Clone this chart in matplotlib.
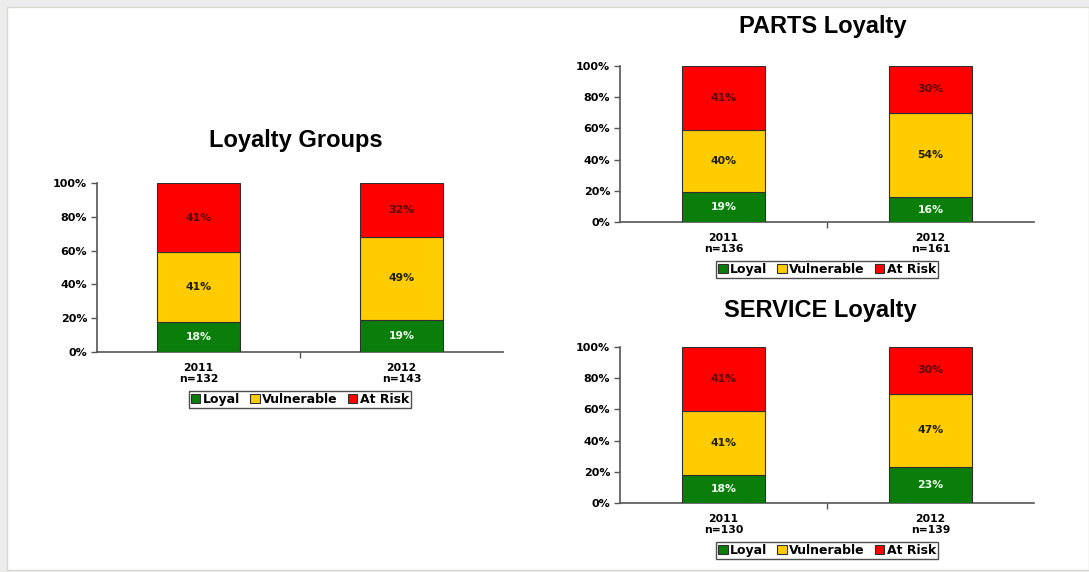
import matplotlib.pyplot as plt
from matplotlib.patches import Patch, Rectangle

plt.rcParams['font.family'] = ['DejaVu Sans']

# ---------------------------------------------------------------- data
years = ["2011", "2012"]
segments = ["Loyal", "Vulnerable", "At Risk"]

groups_n = [132, 143]
groups_loyal = [18, 19]
groups_vuln = [41, 49]
groups_risk = [41, 32]

parts_n = [136, 161]
parts_loyal = [19, 16]
parts_vuln = [40, 54]
parts_risk = [41, 30]

service_n = [130, 139]
service_loyal = [18, 23]
service_vuln = [41, 47]
service_risk = [41, 30]

yticks = [0, 20, 40, 60, 80, 100]

# ---------------------------------------------------------------- style
colors = ["#0b7d0b", "#ffcc00", "#ff0000"]
label_colors = ["#eaffea", "#202000", "#5a0000"]
W, H = 1089, 572


def px_axes(fig, left, right, top, bottom):
    return fig.add_axes([left / W, 1 - bottom / H, (right - left) / W, (bottom - top) / H])


def stacked(ax, n, loyal, vuln, risk):
    x = list(range(len(years)))
    bottom = [0] * len(x)
    for vals, col, tcol in zip([loyal, vuln, risk], colors, label_colors):
        bars = ax.bar(x, vals, width=0.405, bottom=bottom, color=col,
                      edgecolor="#303030", linewidth=0.8, zorder=3)
        for b, v in zip(bars, vals):
            ax.text(b.get_x() + b.get_width() / 2, b.get_y() + b.get_height() / 2,
                    f"{v}%", ha="center", va="center", fontsize=7.8,
                    fontweight="bold", color=tcol, zorder=4)
        bottom = [a + v for a, v in zip(bottom, vals)]

    ax.set_xlim(-0.5, 1.5)
    ax.set_ylim(0, 100)
    ax.set_yticks(yticks)
    ax.set_yticklabels([f"{t}%" for t in yticks], fontsize=8, fontweight="bold")
    ax.tick_params(axis="y", length=4, width=1, color="#555555", pad=3)
    ax.set_xticks([0.5])
    ax.set_xticklabels([""])
    ax.tick_params(axis="x", which="major", length=4, width=1, color="#555555")
    ax.set_xticks(x, minor=True)
    ax.set_xticklabels([f"{y}\nn={k}" for y, k in zip(years, n)], minor=True,
                       fontsize=7.8, fontweight="bold", linespacing=1.1)
    ax.tick_params(axis="x", which="minor", length=0, pad=8)
    for s in ["top", "right"]:
        ax.spines[s].set_visible(False)
    for s in ["left", "bottom"]:
        ax.spines[s].set_color("#555555")
        ax.spines[s].set_linewidth(1.2)

    # legend sits a fixed pixel distance under the axis line
    drop = 33 / (ax.get_position().height * H)
    handles = [Patch(facecolor=c, edgecolor="#303030", linewidth=0.8) for c in colors]
    leg = ax.legend(handles, segments, loc="upper center", bbox_to_anchor=(0.5, -drop),
                    ncol=3, frameon=True, fancybox=False,
                    handlelength=0.75, handleheight=0.75, handletextpad=0.2,
                    columnspacing=0.8, borderpad=0.15, prop={"weight": "bold", "size": 9})
    leg.get_frame().set_edgecolor("#222222")
    leg.get_frame().set_linewidth(1.0)


fig = plt.figure(figsize=(W / 100, H / 100), dpi=100, facecolor="#ececec")
fig.patches.append(Rectangle((7 / W, 2 / H), 1 - 7 / W, 1 - 9 / H,
                             transform=fig.transFigure, facecolor="white",
                             edgecolor="#d8d8d0", linewidth=1, zorder=-1))

title_font = {"family": "Liberation Sans", "fontsize": 17, "fontweight": "bold"}

ax1 = px_axes(fig, 97, 503, 183, 352)
stacked(ax1, groups_n, groups_loyal, groups_vuln, groups_risk)
fig.text(296 / W, 1 - 141 / H, "Loyalty Groups", ha="center", va="center", **title_font)

ax2 = px_axes(fig, 620, 1034, 66, 222)
stacked(ax2, parts_n, parts_loyal, parts_vuln, parts_risk)
fig.text(823 / W, 1 - 26 / H, "PARTS Loyalty", ha="center", va="center", **title_font)

ax3 = px_axes(fig, 620, 1034, 347, 503)
stacked(ax3, service_n, service_loyal, service_vuln, service_risk)
fig.text(820 / W, 1 - 311 / H, "SERVICE Loyalty", ha="center", va="center", **title_font)

fig.savefig("out.png", dpi=100, facecolor=fig.get_facecolor())
